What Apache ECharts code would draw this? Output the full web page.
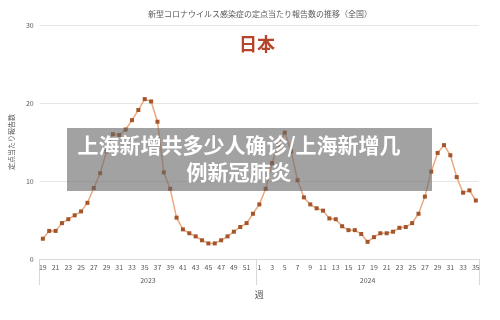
<!DOCTYPE html>
<html>
<head>
<meta charset="utf-8">
<script src="https://cdn.jsdelivr.net/npm/echarts@6/dist/echarts.min.js"></script>
<style>html,body{margin:0;padding:0;background:#fff}#c{width:500px;height:320px}</style>
</head>
<body>
<div id="c"></div>
<script>
// ---- data ----
const weeks2023 = [19,20,21,22,23,24,25,26,27,28,29,30,31,32,33,34,35,36,37,38,39,40,41,42,43,44,45,46,47,48,49,50,51,52];
const values2023 = [2.6,3.6,3.6,4.6,5.1,5.6,6.1,7.2,9.1,11.0,13.8,16.0,15.9,16.6,17.8,19.1,20.5,20.2,17.6,11.1,9.0,5.3,3.8,3.3,2.9,2.4,2.0,2.0,2.4,2.9,3.5,4.1,4.6,5.8];
const weeks2024 = [1,2,3,4,5,6,7,8,9,10,11,12,13,14,15,16,17,18,19,20,21,22,23,24,25,26,27,28,29,30,31,32,33,34,35];
const values2024 = [7.0,9.0,12.3,14.6,16.2,13.8,10.1,7.9,7.0,6.5,6.2,5.2,5.1,4.2,3.7,3.7,3.2,2.2,2.8,3.3,3.3,3.5,4.0,4.1,4.6,5.8,8.0,11.2,13.6,14.6,13.3,10.5,8.5,8.8,7.5];
const years = ['2023','2024'];
const yTicks = [0,10,20,30];
const chartTitle = '新型コロナウイルス感染症の定点当たり報告数の推移（全国）';
const regionLabel = '日本';
const yName = '定点当たり報告数';
const xName = '週';
const overlayText = '上海新增共多少人确诊/上海新增几\n例新冠肺炎';

// ---- build ----
const categories = weeks2023.concat(weeks2024).map(String);
const values = values2023.concat(values2024);
const n1 = weeks2023.length, n2 = weeks2024.length, n = n1 + n2;

const chart = echarts.init(document.getElementById('c'), null, {renderer:'canvas'});
const jp = '"Noto Sans CJK JP", sans-serif';
chart.setOption({
  animation: false,
  backgroundColor: '#fff',
  title: [
    {text: chartTitle, left: 143, top: 5, textStyle: {fontSize: 8, fontWeight: 'normal', color: '#595959', fontFamily: jp}},
    {text: regionLabel, left: 234, top: 30, textStyle: {fontSize: 18, fontWeight: 'bold', color: '#b4442a', fontFamily: jp}}
  ],
  grid: {left: 37.5, right: 21, top: 25, bottom: 61, containLabel: false},
  xAxis: [
    {
      type: 'category', data: categories, boundaryGap: true,
      axisLine: {lineStyle: {color: '#d9d9d9'}},
      axisTick: {show: false},
      axisLabel: {interval: 1, fontSize: 7, color: '#595959', margin: 5, fontFamily: jp},
      name: xName, nameLocation: 'middle', nameGap: 31,
      nameTextStyle: {fontSize: 9, color: '#595959', fontFamily: jp}
    },
    {
      type: 'value', min: 0, max: n, position: 'bottom',
      axisLine: {show: false},
      splitLine: {show: false},
      axisTick: {show: true, customValues: [0, n1, n], length: 26, lineStyle: {color: '#d9d9d9'}},
      axisLabel: {customValues: [n1/2, n1 + n2/2], fontSize: 7, color: '#595959', margin: 17.5, fontFamily: jp,
        formatter: v => (v < n1 ? years[0] : years[1])}
    }
  ],
  yAxis: {
    type: 'value', min: yTicks[0], max: yTicks[yTicks.length-1], interval: yTicks[1]-yTicks[0],
    axisLine: {show: false}, axisTick: {show: false},
    splitLine: {lineStyle: {color: '#e6e6e6'}},
    axisLabel: {fontSize: 7, color: '#595959', margin: 6, fontFamily: jp},
    name: yName, nameLocation: 'middle', nameGap: 18, nameRotate: 90,
    nameTextStyle: {fontSize: 7, color: '#595959', fontFamily: jp}
  },
  series: [{
    type: 'line', xAxisIndex: 0, data: values,
    symbol: 'rect', symbolSize: 4, showSymbol: true,
    lineStyle: {color: '#eaa97e', width: 1.5},
    itemStyle: {color: '#a4552a'}
  }],
  graphic: [
    {type: 'rect', z: 100, shape: {x: 67, y: 128, width: 365, height: 63}, style: {fill: 'rgba(105,105,105,0.62)'}},
    {type: 'text', z: 101, x: 239, y: 159, style: {text: overlayText, fill: '#fff', fontSize: 21, fontWeight: 'bold',
      lineHeight: 27, align: 'center', verticalAlign: 'middle', fontFamily: '"Noto Sans CJK SC", sans-serif'}}
  ]
});
</script>
</body>
</html>
